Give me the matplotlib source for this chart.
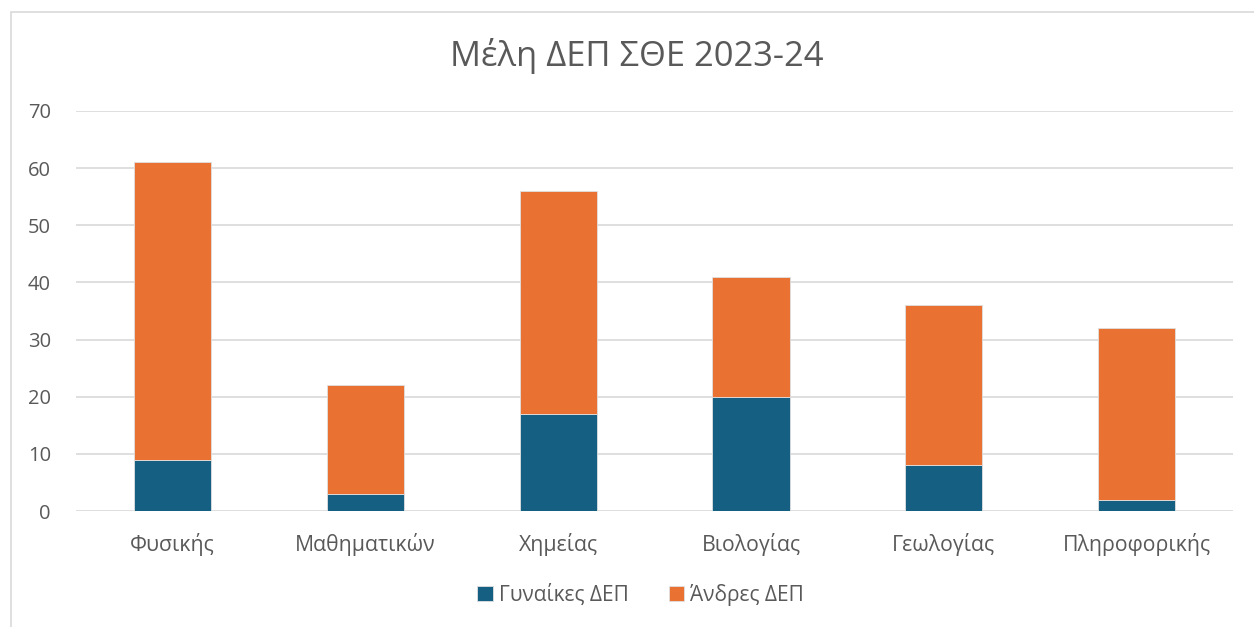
import matplotlib.pyplot as plt
from matplotlib.patches import Rectangle

categories = ['Φυσικής', 'Μαθηματικών', 'Χημείας', 'Βιολογίας', 'Γεωλογίας', 'Πληροφορικής']
women = [9, 3, 17, 20, 8, 2]
men = [52, 19, 39, 21, 28, 30]

plt.rcParams['font.family'] = ['Open Sans', 'DejaVu Sans']

fig = plt.figure(figsize=(12.54, 6.27), dpi=100)
ax = fig.add_axes([0.0606, 0.185, 0.9227, 0.638])

x = range(len(categories))
ax.bar(x, women, width=0.4, color='#156082', edgecolor='#e0e0e0', linewidth=0.6, label='Γυναίκες ΔΕΠ', zorder=3)
ax.bar(x, men, width=0.4, bottom=women, color='#E97132', edgecolor='#e0e0e0', linewidth=0.6, label='Άνδρες ΔΕΠ', zorder=3)

ax.set_xlim(-0.5, len(categories) - 0.5)
ax.set_ylim(0, 70)
ax.set_yticks(range(0, 71, 10))
ax.set_xticks(list(x))
ax.set_xticklabels(categories)
ax.grid(axis='y', color='#d9d9d9', linewidth=1.2, zorder=0)
for s in ax.spines.values():
    s.set_visible(False)
ax.tick_params(axis='both', length=0, colors='#595959')
ax.tick_params(axis='x', pad=16, labelsize=15.3)
ax.tick_params(axis='y', pad=18, labelsize=14.5)

fig.text(0.508, 0.91, 'Μέλη ΔΕΠ ΣΘΕ 2023-24', ha='center', va='center', fontsize=24.8, color='#595959')

fig.legend(loc='center', bbox_to_anchor=(0.511, 0.051), ncol=2, frameon=False, fontsize=15,
           handlelength=0.75, handleheight=0.75, handletextpad=0.3, columnspacing=1.9, labelcolor='#595959')

fig.patches.append(Rectangle((11 / 1254, -0.1), 1.2, 1 - 12 / 627 + 0.1, transform=fig.transFigure,
                             fill=False, edgecolor='#d9d9d9', linewidth=1.2))

fig.savefig('out.png', dpi=100)
